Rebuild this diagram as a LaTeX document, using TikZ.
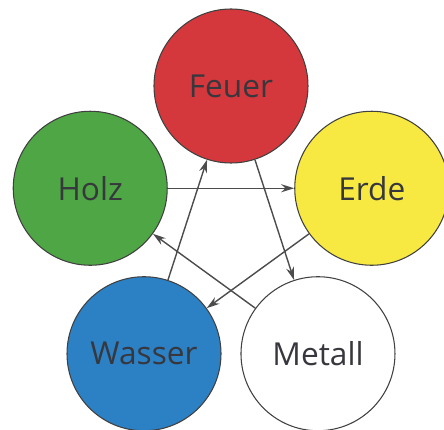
\documentclass[tikz,border=0pt]{standalone}
\usepackage{fontspec}
\setmainfont{Open Sans}
\usepackage{tikz}
\usetikzlibrary{arrows.meta}

\definecolor{feuerrot}{RGB}{212,56,60}
\definecolor{holzgruen}{RGB}{78,166,68}
\definecolor{erdegelb}{RGB}{247,233,66}
\definecolor{wasserblau}{RGB}{44,128,196}
\definecolor{schrift}{RGB}{55,55,62}

\begin{document}
\begin{tikzpicture}[element/.style = {circle, draw=black!75, line width=0.6pt,
      minimum size=3.08cm, inner sep=0pt, text=schrift,
      font=\fontsize{18}{22}\selectfont}]
  \tikzset{zyklus/.style={draw=black!70, line width=0.8pt,
      -{Stealth[length=2.6mm, width=1.6mm]}}}
  \useasboundingbox (-4.62,-3.92) rectangle (4.26,4.68);
  \node [element, fill=feuerrot]   (feuer)  at (90:2.96)  {Feuer};
  \node [element, fill=holzgruen]  (holz)   at (162:2.96) {Holz};
  \node [element, fill=erdegelb]   (erde)   at (18:2.96)  {Erde};
  \node [element, fill=wasserblau] (wasser) at (234:2.96) {Wasser};
  \node [element, fill=white]      (metall) at (306:2.96) {Metall};
  \foreach \von/\nach in {holz/erde, erde/wasser, wasser/feuer, feuer/metall, metall/holz} {
    \path (\von) edge [zyklus] (\nach);
  }
\end{tikzpicture}
\end{document}
